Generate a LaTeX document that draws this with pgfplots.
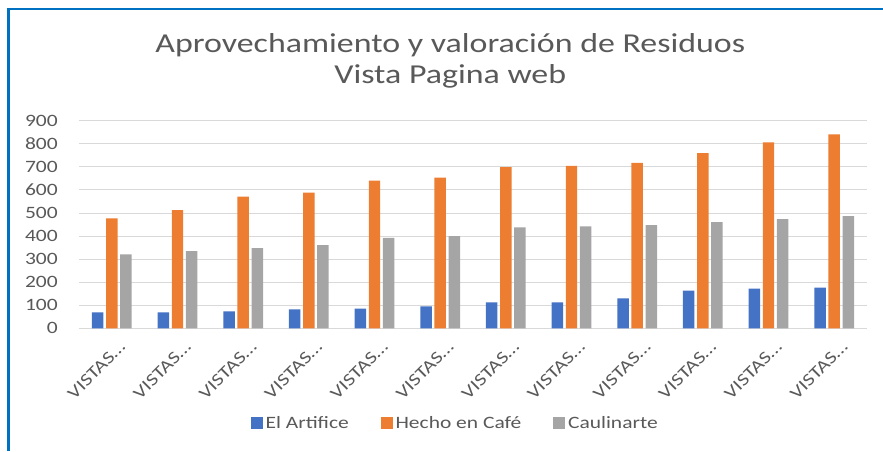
\documentclass[border=0pt]{standalone}
\usepackage{fontspec}
\setmainfont{Carlito}[FakeStretch=1.24]
\usepackage{pgfplots}
\pgfplotsset{compat=1.18}
\definecolor{cblue}{HTML}{4472C4}
\definecolor{corange}{HTML}{ED7D31}
\definecolor{cgray}{HTML}{A5A5A5}
\definecolor{txtgray}{HTML}{595959}
\definecolor{gridgray}{HTML}{D9D9D9}
\definecolor{frameblue}{HTML}{0070C0}
\begin{document}
\begin{tikzpicture}
\path[use as bounding box] (0,0) rectangle (662.25pt,338.25pt);
% selection frame (left and top)
\draw[frameblue, line width=1.9pt] (6.4pt,0) -- (6.4pt,331.5pt) -- (662.25pt,331.5pt);
% title
\node[anchor=base, text=txtgray, font=\fontsize{20.5}{24}\selectfont] at (337.7pt,298.5pt)
  {Aprovechamiento y valoración de Residuos};
\node[anchor=base, text=txtgray, font=\fontsize{20.5}{24}\selectfont] at (337.7pt,276pt)
  {Vista Pagina web};
\begin{axis}[
  at={(59.25pt,92pt)}, anchor=south west,
  width=591pt, height=155.7pt, scale only axis,
  xmin=-0.5, xmax=11.5, ymin=0, ymax=900,
  ytick={0,100,...,900},
  xtick={0,...,11},
  xticklabels={VISTAS…,VISTAS…,VISTAS…,VISTAS…,VISTAS…,VISTAS…,VISTAS…,VISTAS…,VISTAS…,VISTAS…,VISTAS…,VISTAS…},
  ybar=2pt, bar width=8.6pt,
  axis line style={draw=none},
  major tick length=0pt,
  ymajorgrids, grid style={gridgray, line width=0.75pt},
  /pgf/number format/assume math mode=true,
  tick label style={text=txtgray, font=\fontsize{13}{15}\selectfont},
  yticklabel style={anchor=east, inner sep=0pt, xshift=-15.75pt},
  xticklabel style={inner sep=0pt, xshift=8pt, yshift=-12pt, rotate=45, anchor=east},
  legend style={at={(rel axis cs:0.478,-0.456)}, anchor=center, draw=none,
    legend columns=3, font=\fontsize{13}{15}\selectfont, text=txtgray,
    /tikz/every even column/.append style={column sep=22pt}},
  legend image code/.code={\fill[#1] (0pt,-4.5pt) rectangle (9pt,4.5pt);},
]
\addplot[fill=cblue, draw=none] coordinates
  {(0,69)(1,69)(2,74)(3,82)(4,85)(5,95)(6,113)(7,113)(8,130)(9,163)(10,172)(11,176)};
\addlegendentry{El Artifice}
\addplot[fill=corange, draw=none] coordinates
  {(0,477)(1,512)(2,571)(3,588)(4,640)(5,653)(6,699)(7,704)(8,717)(9,760)(10,806)(11,841)};
\addlegendentry{Hecho en Café}
\addplot[fill=cgray, draw=none] coordinates
  {(0,321)(1,335)(2,348)(3,361)(4,392)(5,400)(6,438)(7,442)(8,447)(9,460)(10,473)(11,486)};
\addlegendentry{Caulinarte}
\end{axis}
\end{tikzpicture}
\end{document}
